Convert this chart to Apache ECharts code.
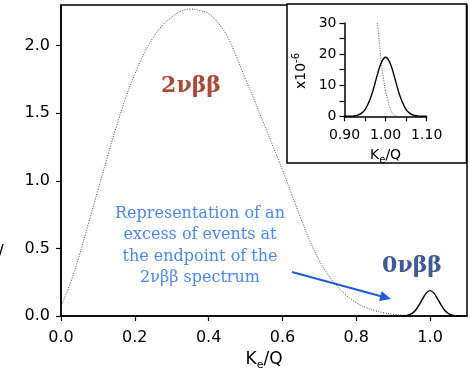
<!DOCTYPE html>
<html>
<head>
<meta charset="utf-8">
<script src="https://cdn.jsdelivr.net/npm/echarts@6/dist/echarts.min.js"></script>
<style>html,body{margin:0;padding:0;background:#fff}#c{width:470px;height:376px}</style>
</head>
<body>
<div id="c"></div>
<script>
// Main panel: 2νββ continuum (dotted)
const twoNuX = [0.00,0.025,0.05,0.075,0.10,0.125,0.15,0.175,0.20,0.225,0.25,0.275,0.30,0.325,0.35,0.375,0.40,0.425,0.45,0.475,0.50,0.525,0.55,0.575,0.60,0.625,0.65,0.675,0.70,0.725,0.75,0.775,0.80,0.825,0.85,0.875,0.90,0.925,0.95,0.975,1.00];
const twoNuY = [0.07,0.24,0.45,0.69,0.93,1.17,1.40,1.61,1.79,1.94,2.06,2.15,2.21,2.255,2.27,2.26,2.235,2.17,2.07,1.92,1.75,1.59,1.42,1.25,1.08,0.90,0.72,0.55,0.41,0.30,0.215,0.148,0.098,0.064,0.040,0.024,0.013,0.006,0.003,0.001,0.0];
// Main panel: 0νββ peak (solid)
const zeroNuX = [0.92,0.93,0.94,0.95,0.96,0.97,0.98,0.99,1.00,1.01,1.02,1.03,1.04,1.05,1.06,1.07,1.08];
const zeroNuY = [0.0,0.002,0.006,0.018,0.041,0.081,0.128,0.171,0.188,0.171,0.128,0.081,0.041,0.018,0.006,0.002,0.0];
// Inset (x10^-6)
const insetZeroX = [0.90,0.91,0.92,0.93,0.94,0.95,0.96,0.97,0.98,0.99,1.00,1.01,1.02,1.03,1.04,1.05,1.06,1.07,1.08,1.09,1.10];
const insetZeroY = [0.0,0.015,0.07,0.27,0.84,2.17,4.75,8.6,13.4,17.4,19.0,17.4,13.4,8.6,4.75,2.17,0.84,0.27,0.07,0.015,0.0];
const insetTwoX = [0.98,0.985,0.99,0.995,1.00,1.005,1.01,1.015,1.02,1.025,1.03];
const insetTwoY = [30,23.5,17,12,8,5.5,2.8,1.3,0.5,0.1,0];
// Tick labels
const mainXTicks = [0,0.2,0.4,0.6,0.8,1.0];
const mainYTicks = [0,0.5,1.0,1.5,2.0];
const insetXTicks = [0.90,0.95,1.00,1.05,1.10];
const insetXLabels = [0.90,1.00,1.10];
const insetYTicks = [0,5,10,15,20,25,30];
const insetYLabels = [0,10,20,30];

const zip = (xs, ys) => xs.map((x, i) => [x, ys[i]]);
const FONT = 'DejaVu Sans';
const chart = echarts.init(document.getElementById('c'), null, {renderer: 'canvas'});

const subRich = {
  n: {fontFamily: FONT, fontSize: 17, color: '#000'},
  sub: {fontFamily: FONT, fontSize: 11, color: '#000', padding: [12, 0, 0, 0]}
};
const subRichSmall = {
  n: {fontFamily: FONT, fontSize: 14, color: '#000'},
  sub: {fontFamily: FONT, fontSize: 10, color: '#000', padding: [10, 0, 0, 0]}
};

const option = {
  animation: false,
  backgroundColor: '#fff',
  grid: [
    {left: 61, top: 5, right: 3, bottom: 53, show: true, borderColor: '#000', borderWidth: 1.5, backgroundColor: 'transparent'},
    {left: 344.5, top: 23, right: 43.3, bottom: 259.7, z: 20}
  ],
  xAxis: [
    {
      gridIndex: 0, type: 'value', min: 0, max: 1.1,
      axisLine: {show: true, onZero: false, lineStyle: {color: '#000', width: 1.5}},
      axisTick: {show: true, inside: false, length: 5, lineStyle: {color: '#000', width: 1.2}, customValues: mainXTicks},
      axisLabel: {fontFamily: FONT, fontSize: 16, color: '#000', margin: 14, customValues: mainXTicks, formatter: v => v.toFixed(1)},
      splitLine: {show: false},
      name: '{n|K}{sub|e}{n|/Q}', nameLocation: 'middle', nameGap: 32,
      nameTextStyle: {rich: subRich}
    },
    {
      gridIndex: 1, type: 'value', min: 0.9, max: 1.1, z: 20,
      axisLine: {show: true, onZero: false, lineStyle: {color: '#000', width: 1.5}},
      axisTick: {show: true, length: 5, lineStyle: {color: '#000', width: 1.2}, customValues: insetXTicks},
      axisLabel: {fontFamily: FONT, fontSize: 14, color: '#000', margin: 12, customValues: insetXLabels, formatter: v => v.toFixed(2)},
      splitLine: {show: false},
      name: '{n|K}{sub|e}{n|/Q}', nameLocation: 'middle', nameGap: 29,
      nameTextStyle: {rich: subRichSmall}
    }
  ],
  yAxis: [
    {
      gridIndex: 0, type: 'value', min: 0, max: 2.3,
      axisLine: {show: true, onZero: false, lineStyle: {color: '#000', width: 1.5}},
      axisTick: {show: true, length: 5, lineStyle: {color: '#000', width: 1.2}, customValues: mainYTicks},
      axisLabel: {fontFamily: FONT, fontSize: 16, color: '#000', margin: 11, customValues: mainYTicks, formatter: v => v.toFixed(1)},
      splitLine: {show: false}
    },
    {
      gridIndex: 1, type: 'value', min: 0, max: 30, z: 20,
      axisLine: {show: true, onZero: false, lineStyle: {color: '#000', width: 1.5}},
      axisTick: {show: true, length: 5, lineStyle: {color: '#000', width: 1.2}, customValues: insetYTicks},
      axisLabel: {fontFamily: FONT, fontSize: 14, color: '#000', margin: 8, customValues: insetYLabels},
      splitLine: {show: false}
    }
  ],
  series: [
    {
      type: 'line', xAxisIndex: 0, yAxisIndex: 0, data: zip(twoNuX, twoNuY),
      smooth: 0.4, showSymbol: false, z: 2,
      lineStyle: {color: '#444', width: 1, type: [1, 1.5]}
    },
    {
      type: 'line', xAxisIndex: 0, yAxisIndex: 0, data: zip(zeroNuX, zeroNuY),
      smooth: 0.4, showSymbol: false, z: 2,
      lineStyle: {color: '#000', width: 1.4}
    },
    {
      type: 'line', xAxisIndex: 1, yAxisIndex: 1, data: zip(insetTwoX, insetTwoY),
      smooth: 0.4, showSymbol: false, z: 22,
      lineStyle: {color: '#555', width: 1, type: [1, 1.5]}
    },
    {
      type: 'line', xAxisIndex: 1, yAxisIndex: 1, data: zip(insetZeroX, insetZeroY),
      smooth: 0.4, showSymbol: false, z: 22,
      lineStyle: {color: '#000', width: 1.4}
    }
  ],
  graphic: [
    {type: 'rect', z: 10, shape: {x: 287, y: 4, width: 179.5, height: 159}, style: {fill: '#fff', stroke: '#000', lineWidth: 1.5}},
    {type: 'text', z: 30, x: 301, y: 71, rotation: Math.PI / 2,
      style: {text: '{a|x10}{s|-6}', align: 'center', verticalAlign: 'middle',
        rich: {a: {fontFamily: FONT, fontSize: 14, color: '#000'}, s: {fontFamily: FONT, fontSize: 10, color: '#000', padding: [0, 0, 10, 0]}}}},
    {type: 'text', z: 30, x: 191, y: 86,
      style: {text: '2νββ', align: 'center', verticalAlign: 'middle', fontFamily: 'DejaVu Serif', fontWeight: 'bold', fontSize: 22, fill: '#a94b3b'}},
    {type: 'text', z: 30, x: 412, y: 266,
      style: {text: '0νββ', align: 'center', verticalAlign: 'middle', fontFamily: 'DejaVu Serif', fontWeight: 'bold', fontSize: 22, fill: '#3f5a95'}},
    {type: 'text', z: 30, x: 200, y: 246,
      style: {text: 'Representation of an\nexcess of events at\nthe endpoint of the\n2νββ spectrum', align: 'center', verticalAlign: 'middle',
        fontFamily: 'DejaVu Serif', fontSize: 16, lineHeight: 21.5, fill: '#4a88ef'}},
    {type: 'line', z: 30, shape: {x1: 292, y1: 272, x2: 381, y2: 296.3}, style: {stroke: '#1f5cd8', lineWidth: 2}},
    {type: 'polygon', z: 30, shape: {points: [[391, 299], [379.1, 300.9], [381.7, 291.3]]}, style: {fill: '#1f5cd8'}},
    {type: 'text', z: 30, x: -2, y: 253,
      style: {text: '/', align: 'left', verticalAlign: 'middle', fontFamily: FONT, fontSize: 17, fill: '#000'}}
  ]
};
chart.setOption(option);
</script>
</body>
</html>
